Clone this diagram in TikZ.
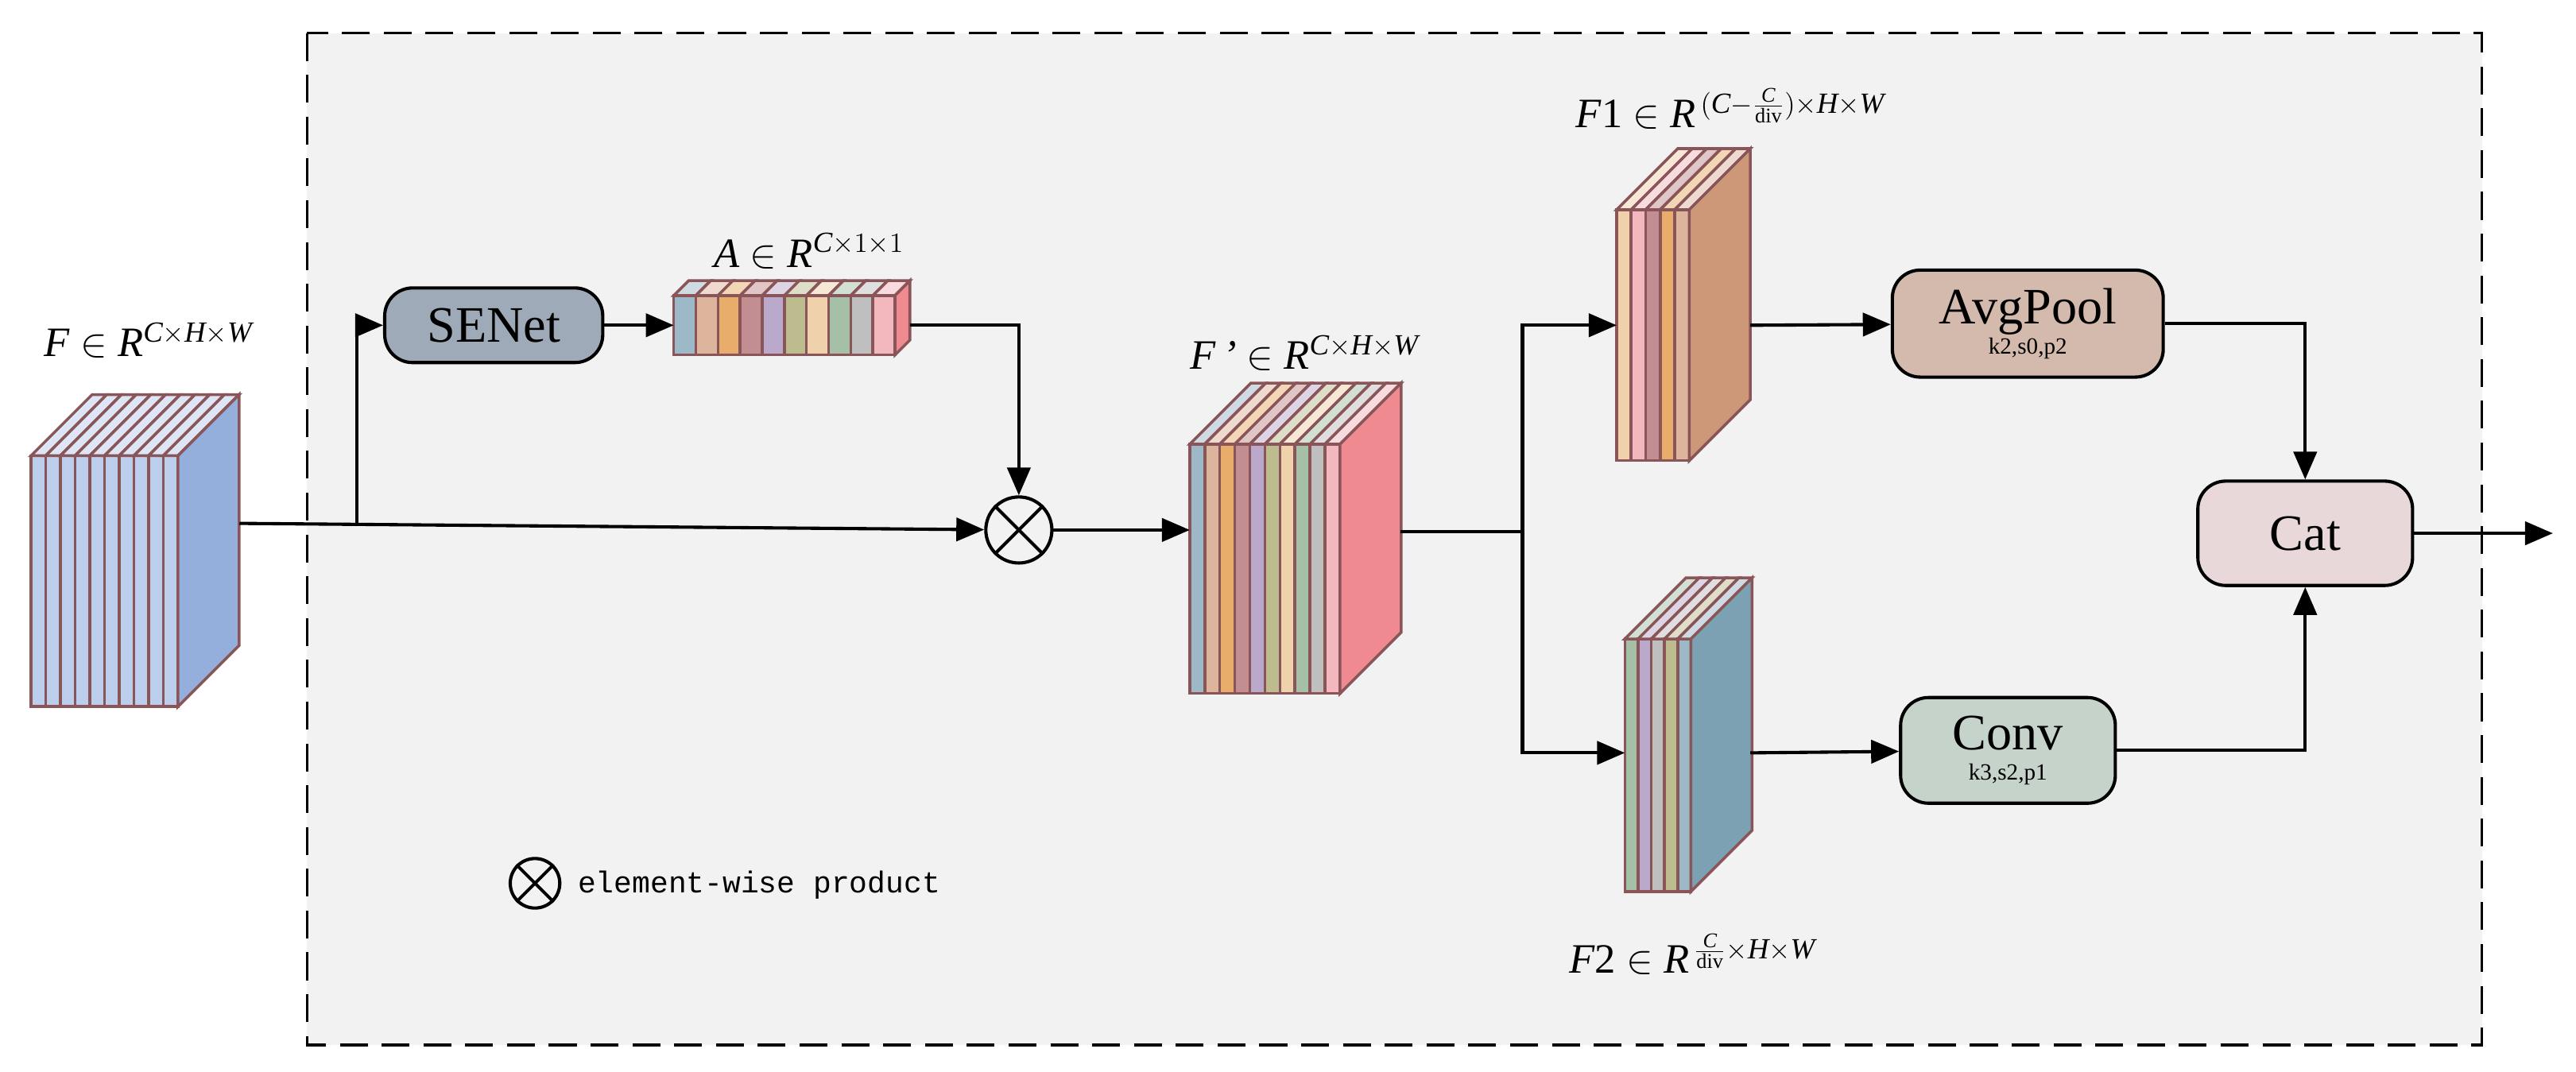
\documentclass[tikz,border=0pt]{standalone}
\usepackage{fontspec}
\setmainfont{Liberation Serif}
\newfontfamily\mono{Liberation Mono}
\usetikzlibrary{arrows.meta}
\definecolor{edge}{HTML}{8A5558}
\definecolor{fb}{HTML}{BDCDEC}\definecolor{fbs}{HTML}{94AFDC}
\definecolor{c1}{HTML}{9DB8C6}\definecolor{c2}{HTML}{DDB59D}\definecolor{c3}{HTML}{E8AD6A}
\definecolor{c4}{HTML}{C38E91}\definecolor{c5}{HTML}{BBA9CB}\definecolor{c6}{HTML}{BDBC8F}
\definecolor{c7}{HTML}{EFD1AC}\definecolor{c8}{HTML}{A6C0A8}\definecolor{c9}{HTML}{BFBFBF}
\definecolor{c10}{HTML}{F2B8BE}\definecolor{sp}{HTML}{EE8A90}\definecolor{s1}{HTML}{CD9878}
\definecolor{s2}{HTML}{7BA1B3}\definecolor{bg}{HTML}{F2F2F2}
\definecolor{senet}{HTML}{9FAAB8}\definecolor{avg}{HTML}{D4B9AD}\definecolor{conv}{HTML}{C5D3CA}\definecolor{cat}{HTML}{E8D8DA}
% x y stripewidth height depth n colors side
\newcommand\mycuboid[8]{%
 \foreach \c [count=\i from 0] in {#7} {
  \filldraw[fill=\c, draw=edge, line width=1.2pt] (#1+\i*#3,#2) rectangle ++(#3,#4);
  \filldraw[fill=\c!50!white, draw=edge, line width=1.2pt] (#1+\i*#3,#2) -- ++(#5,-#5) -- ++(#3,0) -- ++(-#5,#5) -- cycle;}
 \filldraw[fill=#8, draw=edge, line width=1.2pt] (#1+#6*#3,#2) -- ++(#5,-#5) -- ++(0,#4) -- ++(-#5,#5) -- cycle;}
\tikzset{box/.style={draw=black, line width=1.4pt, rounded corners=12pt, align=center, inner sep=0pt},
 arr/.style={-{Triangle[length=12pt,width=10pt]}, line width=1.4pt},
 ln/.style={line width=1.4pt},
 lab/.style={font=\fontsize{18}{20}\selectfont}}
\begin{document}
\begin{tikzpicture}[x=0.025cm,y=-0.025cm]
\useasboundingbox (0,0) rectangle (1560,649.3);
\fill[white] (0,0) rectangle (1560,649.3);
\draw[fill=bg, dash pattern=on 12pt off 6pt, line width=1.2pt] (186,20) rectangle (1503,633);
% cubes
\mycuboid{18.8}{276}{8.9}{152}{37}{10}{fb,fb,fb,fb,fb,fb,fb,fb,fb,fb}{fbs}
\mycuboid{408}{179}{13.4}{36}{9}{10}{c1,c2,c3,c4,c5,c6,c7,c8,c9,c10}{sp}
\mycuboid{720.5}{269}{9.1}{151}{37}{10}{c1,c2,c3,c4,c5,c6,c7,c8,c9,c10}{sp}
\mycuboid{979}{127}{8.8}{152}{37}{5}{c7,c10,c4,c3,c2}{s1}
\mycuboid{984}{387}{8}{153}{37}{5}{c8,c5,c9,c6,c1}{s2}
\coordinate (Fout) at (145,317);
\coordinate (Ain) at (408,197); \coordinate (Aout) at (551,197);
\coordinate (Fpin) at (720.5,321); \coordinate (Fpout) at (848,322);
\coordinate (F1in) at (979,197); \coordinate (F1out) at (1060,197);
\coordinate (F2in) at (984,456); \coordinate (F2out) at (1060,456);
% labels
\node[lab] at (90,206) {\textit{F} $\in$ \textit{R}$^{\mathit{C\times H\times W}}$};
\node[lab] at (490,152) {\textit{A} $\in$ \textit{R}$^{\mathit{C}\times 1\times 1}$};
\node[lab] at (790,214) {\textit{F\,'} $\in$ \textit{R}$^{\mathit{C\times H\times W}}$};
\node[lab] at (1048,66) {\textit{F}1 $\in$ \textit{R}$^{\,(\mathit{C}-\frac{\mathit{C}}{\mathrm{div}})\times \mathit{H\times W}}$};
\node[lab] at (1025,578) {\textit{F}2 $\in$ \textit{R}$^{\,\frac{\mathit{C}}{\mathrm{div}}\times \mathit{H\times W}}$};
% boxes
\node[box, fill=senet, minimum width=3.3cm, minimum height=1.13cm, font=\fontsize{22}{24}\selectfont] (se) at (299,197) {SENet};
\node[box, fill=avg, minimum width=4.1cm, minimum height=1.62cm] (avg) at (1228,196) {{\fontsize{22}{24}\selectfont AvgPool}\\[1pt]{\fontsize{10}{11}\selectfont k2,s0,p2}};
\node[box, fill=conv, minimum width=3.25cm, minimum height=1.6cm] (cv) at (1216,454.5) {{\fontsize{22}{24}\selectfont Conv}\\[1pt]{\fontsize{10}{11}\selectfont k3,s2,p1}};
\node[box, fill=cat, minimum width=3.25cm, minimum height=1.58cm, font=\fontsize{22}{24}\selectfont] (cat) at (1396,323) {Cat};
\node[circle, draw, line width=1.4pt, minimum size=1cm, inner sep=0pt] (ot) at (617,321) {};
\draw[line width=1.4pt] (ot.45) -- (ot.225) (ot.135) -- (ot.315);
\coordinate (out) at (1546,323);
% connectors
\draw[arr] (Fout) -- (ot);
\coordinate (b1) at (216,318);
\draw[arr] (b1) |- (se);
\draw[arr] (se) -- (Ain);
\draw[arr] (Aout) -| (ot);
\draw[arr] (ot) -- (Fpin);
\coordinate (j) at (922,322);
\draw[ln] (Fpout) -- (j);
\draw[arr] (j) |- (F1in);
\draw[arr] (j) |- (F2in);
\draw[arr] (F1out) -- (avg);
\draw[arr] (F2out) -- (cv);
\draw[arr] (avg.east) -| (cat.north);
\draw[arr] (cv.east) -| (cat.south);
\draw[arr] (cat) -- (out);
% legend
\node[circle, draw, line width=1.4pt, minimum size=0.75cm, inner sep=0pt] (lg) at (324,535) {};
\draw[line width=1.3pt] (lg.45) -- (lg.225) (lg.135) -- (lg.315);
\node[anchor=west, font=\mono\fontsize{13}{14}\selectfont] (lgt) at (345,536) {element-wise product};
\end{tikzpicture}
\end{document}
